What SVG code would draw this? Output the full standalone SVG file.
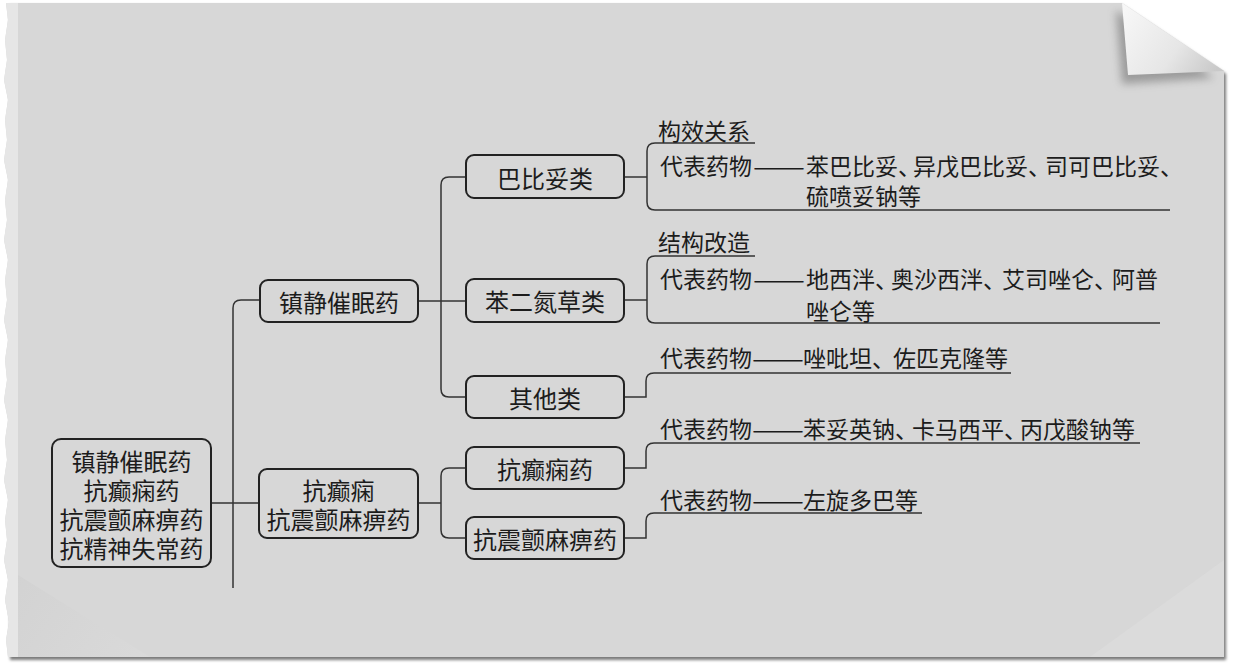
<svg xmlns="http://www.w3.org/2000/svg" width="1233" height="665" viewBox="0 0 1233 665">
<defs>
<style>
.t{font-family:"Noto Sans CJK SC","Noto Sans CJK JP",sans-serif;fill:#1c1c1c;dominant-baseline:central}
.n{font-size:24px;text-anchor:middle}
.l{font-size:23px}
.box{fill:none;stroke:#222;stroke-width:2}
.c{fill:none;stroke:#333;stroke-width:1.5}
</style>
<filter id="blur1" x="-5%" y="-5%" width="110%" height="110%"><feGaussianBlur stdDeviation="1.5"/></filter>
<filter id="blur4" x="-30%" y="-30%" width="160%" height="160%"><feGaussianBlur stdDeviation="4"/></filter>
<linearGradient id="flap" x1="1125" y1="8" x2="1215" y2="72" gradientUnits="userSpaceOnUse">
<stop offset="0" stop-color="#f7f7f7"/><stop offset="0.6" stop-color="#e6e6e6"/><stop offset="1" stop-color="#c9c9c9"/>
</linearGradient>
<linearGradient id="sheenL" x1="20" y1="560" x2="160" y2="658" gradientUnits="userSpaceOnUse">
<stop offset="0" stop-color="#cfcfcf"/><stop offset="1" stop-color="#dcdcdc"/>
</linearGradient>
</defs>
<rect width="1233" height="665" fill="#ffffff"/>
<g id="paper">
<path d="M10,5 L1122,5 L1226,74 L1226,660 L10,660 Z" fill="#7a7a7a" filter="url(#blur1)"/>
<path d="M6,3 L1122,3 L1224,71 L1224,657 L8,657 L6,640 L9,622 L5,600 L8,580 L4,560 L7,540 L5,520 L8,500 L4,480 L7,460 L5,440 L8,420 L4,400 L7,380 L5,360 L8,340 L4,320 L7,300 L5,280 L8,260 L4,240 L7,220 L5,200 L8,180 L4,160 L7,140 L5,120 L8,100 L4,80 L7,60 L5,40 L8,20 Z" fill="#d7d7d7"/>
<path d="M6,3 L18,3 L18,657 L8,657 L6,640 L9,622 L5,600 L8,580 L4,560 L7,540 L5,520 L8,500 L4,480 L7,460 L5,440 L8,420 L4,400 L7,380 L5,360 L8,340 L4,320 L7,300 L5,280 L8,260 L4,240 L7,220 L5,200 L8,180 L4,160 L7,140 L5,120 L8,100 L4,80 L7,60 L5,40 L8,20 Z" fill="#e6e6e6"/>
<path d="M18,575 L150,657 L18,657 Z" fill="url(#sheenL)" opacity="0.6"/>
<path d="M1224,560 L1224,657 L1090,657 Z" fill="#dedede" opacity="0.6"/>
<polygon points="1116,10 1214,78 1122,84" fill="#6a6a6a" opacity="0.55" filter="url(#blur4)"/>
<polygon points="1122,3 1224,71 1128,75" fill="url(#flap)"/>
</g>
<g id="connectors">
<path class="c" d="M211,503 H260"/>
<path class="c" d="M260,300 H241 Q233,300 233,308 V588"/>
<path class="c" d="M418,301 H466"/>
<path class="c" d="M466,177 H449 Q441,177 441,185 V389 Q441,397 449,397 H466"/>
<path class="c" d="M418,503 H441"/>
<path class="c" d="M466,468 H449 Q441,468 441,476 V530 Q441,538 449,538 H466"/>
<path class="c" d="M624,177 H647"/>
<path class="c" d="M755,143 H655 Q647,143 647,151 V202 Q647,210 655,210 H1170"/>
<path class="c" d="M624,300 H647"/>
<path class="c" d="M755,256 H655 Q647,256 647,264 V315 Q647,323 655,323 H1160"/>
<path class="c" d="M624,397 H646 V381 Q646,373 654,373 H1011"/>
<path class="c" d="M624,468 H646 V451 Q646,443 654,443 H1140"/>
<path class="c" d="M624,538 H646 V521 Q646,513 654,513 H922"/>
</g>
<g id="root">
<rect class="box" x="52" y="439" width="159" height="128" rx="9"/>
<text class="t n" y="460"><tspan x="131.5">镇静催眠药</tspan><tspan x="131.5" dy="29">抗癫痫药</tspan><tspan x="131.5" dy="29">抗震颤麻痹药</tspan><tspan x="131.5" dy="29">抗精神失常药</tspan></text>
</g>
<g id="sedative">
<rect class="box" x="260" y="280" width="158" height="42" rx="8"/>
<text class="t n" x="339" y="301">镇静催眠药</text>
</g>
<g id="antiepileptic-group">
<rect class="box" x="259" y="469" width="159" height="69" rx="8"/>
<text class="t n" y="489"><tspan x="338.5">抗癫痫</tspan><tspan x="338.5" dy="29">抗震颤麻痹药</tspan></text>
</g>
<g id="barbiturates">
<rect class="box" x="466" y="155" width="158" height="43" rx="8"/>
<text class="t n" x="545" y="177">巴比妥类</text>
</g>
<g id="benzodiazepines">
<rect class="box" x="466" y="279" width="158" height="43" rx="8"/>
<text class="t n" x="545" y="300">苯二氮草类</text>
</g>
<g id="others">
<rect class="box" x="466" y="376" width="158" height="42" rx="8"/>
<text class="t n" x="545" y="397">其他类</text>
</g>
<g id="antiepileptic">
<rect class="box" x="466" y="447" width="158" height="42" rx="8"/>
<text class="t n" x="545" y="468">抗癫痫药</text>
</g>
<g id="antiparkinson">
<rect class="box" x="466" y="517" width="158" height="42" rx="8"/>
<text class="t n" x="545" y="538">抗震颤麻痹药</text>
</g>
<g id="barb-leaf">
<text class="t l" x="658" y="130">构效关系</text>
<text class="t l" y="165"><tspan x="660">代表药物</tspan><tspan x="753" textLength="52" lengthAdjust="spacingAndGlyphs">——</tspan><tspan x="806">苯巴比妥、</tspan><tspan x="913">异戊巴比妥、</tspan><tspan x="1045">司可巴比妥、</tspan><tspan x="806" dy="30">硫喷妥钠等</tspan></text>
</g>
<g id="benzo-leaf">
<text class="t l" x="658" y="241">结构改造</text>
<text class="t l" y="278"><tspan x="660">代表药物</tspan><tspan x="753" textLength="52" lengthAdjust="spacingAndGlyphs">——</tspan><tspan x="806">地西泮、</tspan><tspan x="891">奥沙西泮、</tspan><tspan x="1002">艾司唑仑、</tspan><tspan x="1112">阿普</tspan><tspan x="806" dy="32">唑仑等</tspan></text>
</g>
<g id="others-leaf">
<text class="t l" y="357"><tspan x="660">代表药物</tspan><tspan x="752" textLength="52" lengthAdjust="spacingAndGlyphs">——</tspan><tspan x="803">唑吡坦、</tspan><tspan x="893">佐匹克隆等</tspan></text>
</g>
<g id="antiepileptic-leaf">
<text class="t l" y="428"><tspan x="660">代表药物</tspan><tspan x="752" textLength="52" lengthAdjust="spacingAndGlyphs">——</tspan><tspan x="803">苯妥英钠、</tspan><tspan x="912">卡马西平、</tspan><tspan x="1020">丙戊酸钠等</tspan></text>
</g>
<g id="antiparkinson-leaf">
<text class="t l" y="499"><tspan x="660">代表药物</tspan><tspan x="752" textLength="52" lengthAdjust="spacingAndGlyphs">——</tspan><tspan x="803">左旋多巴等</tspan></text>
</g>
</svg>
